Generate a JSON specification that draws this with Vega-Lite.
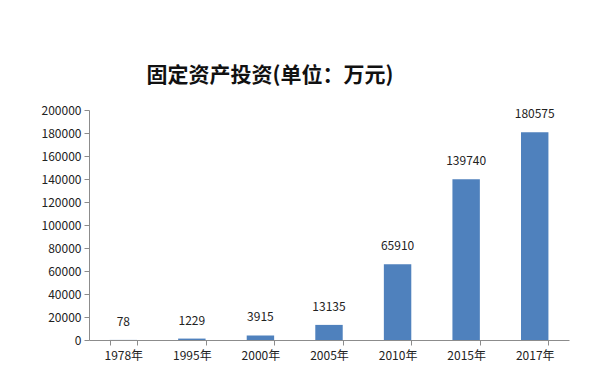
{
  "$schema": "https://vega.github.io/schema/vega-lite/v6.json",
  "autosize": "none",
  "width": 480,
  "height": 230,
  "padding": {"left": 89, "top": 110, "right": 27, "bottom": 48},
  "background": "white",
  "title": {
    "text": "固定资产投资(单位：万元)",
    "font": "Noto Sans CJK SC",
    "fontSize": 21,
    "fontWeight": "bold",
    "color": "#111111",
    "anchor": "middle",
    "dx": -59,
    "offset": 18
  },
  "data": {
    "values": [
      {"year": "1978年", "value": 78},
      {"year": "1995年", "value": 1229},
      {"year": "2000年", "value": 3915},
      {"year": "2005年", "value": 13135},
      {"year": "2010年", "value": 65910},
      {"year": "2015年", "value": 139740},
      {"year": "2017年", "value": 180575}
    ]
  },
  "config": {
    "view": {"stroke": null},
    "axis": {
      "labelFont": "Noto Sans CJK SC",
      "labelFontSize": 12,
      "labelColor": "#222222",
      "domainColor": "#8c8c8c",
      "tickColor": "#8c8c8c",
      "grid": false,
      "title": null
    }
  },
  "encoding": {
    "x": {
      "field": "year",
      "type": "nominal",
      "sort": null,
      "scale": {"paddingInner": 0.6, "paddingOuter": 0.3},
      "axis": {"labelAngle": 0, "tickBand": "extent", "tickSize": 5, "labelPadding": 5}
    },
    "y": {
      "field": "value",
      "type": "quantitative",
      "scale": {"domain": [0, 200000]},
      "axis": {"values": [0, 20000, 40000, 60000, 80000, 100000, 120000, 140000, 160000, 180000, 200000], "format": "d", "tickSize": 5, "labelPadding": 3}
    }
  },
  "layer": [
    {"mark": {"type": "bar", "color": "#4F81BD"}},
    {
      "mark": {"type": "text", "baseline": "bottom", "dy": -11, "font": "Noto Sans CJK SC", "fontSize": 12, "color": "#222222"},
      "encoding": {"text": {"field": "value", "type": "quantitative", "format": "d"}}
    }
  ]
}
